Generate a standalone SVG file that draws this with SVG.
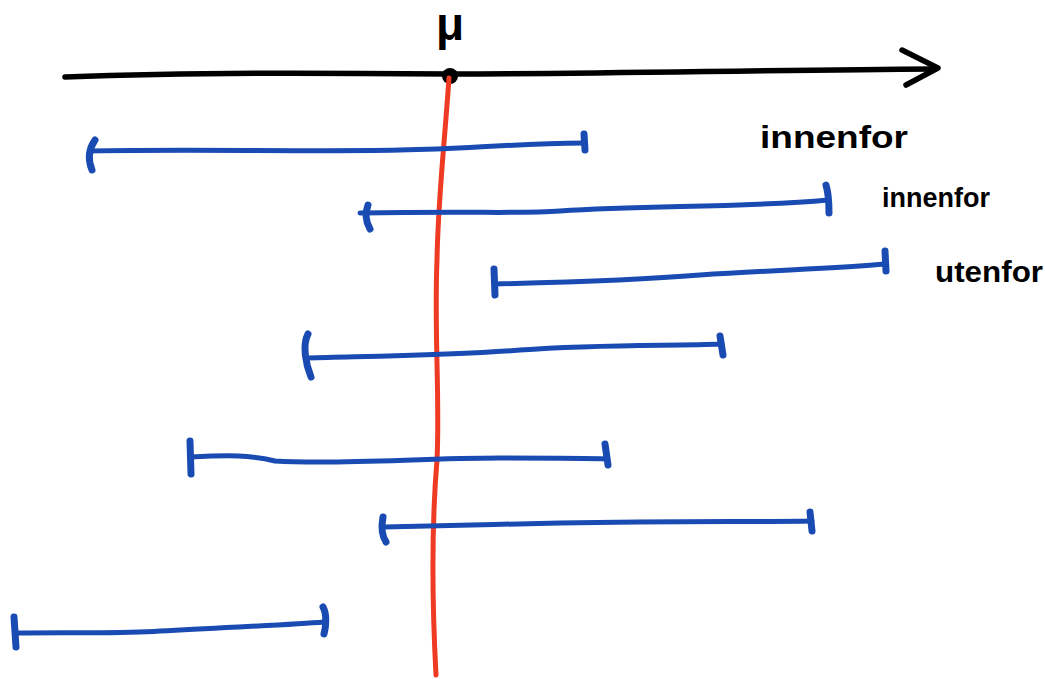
<svg xmlns="http://www.w3.org/2000/svg" width="1045" height="679" viewBox="0 0 1045 679">
  <style>
    .axis { fill: none; stroke: #000; stroke-width: 5.5; stroke-linecap: round; stroke-linejoin: round; }
    .mean { fill: none; stroke: #ef3a24; stroke-width: 5; stroke-linecap: round; }
    .ci { fill: none; stroke: #1a4bb3; stroke-width: 5; stroke-linecap: round; stroke-linejoin: round; }
    .tick { fill: none; stroke: #1a4bb3; stroke-width: 7; stroke-linecap: round; }
    .lbl { font-family: "Liberation Sans", Arial, sans-serif; font-weight: bold; fill: #000; }
  </style>

  <!-- number line with arrow -->
  <g id="axis">
    <path class="axis" d="M65,77 C200,72 330,73 450,74 C600,74 760,70 935,69"/>
    <path class="axis" d="M902,50 L938,68 L906,85"/>
    <circle cx="450" cy="76" r="8" fill="#000"/>
    <text class="lbl" x="450" y="40" font-size="46" text-anchor="middle">μ</text>
  </g>

  <!-- true mean -->
  <g id="mean-line">
    <path class="mean" d="M449,78 C444,150 438,200 437,260 C434,330 440,400 437,460 C432,520 432,600 436,675"/>
  </g>

  <!-- confidence intervals -->
  <g id="intervals">
    <g id="ci1">
      <path class="ci" d="M90,151 C200,149 300,152 400,150 C470,149 500,144 585,143"/>
      <path class="tick" d="M95,140 C88,150 88,160 92,170"/>
      <path class="tick" d="M584,134 L585,150"/>
    </g>
    <g id="ci2">
      <path class="ci" d="M360,213 C480,211 520,214 560,211 C650,205 740,208 828,200"/>
      <path class="tick" d="M368,205 C365,213 366,222 370,229"/>
      <path class="tick" d="M826,185 C829,195 829,205 829,213"/>
    </g>
    <g id="ci3">
      <path class="ci" d="M494,284 C580,282 640,280 700,275 C780,270 840,268 886,264"/>
      <path class="tick" d="M494,269 L495,295"/>
      <path class="tick" d="M885,251 L886,271"/>
    </g>
    <g id="ci4">
      <path class="ci" d="M308,358 C380,356 460,355 520,350 C600,344 670,346 722,344"/>
      <path class="tick" d="M308,334 C302,345 306,365 311,377"/>
      <path class="tick" d="M720,336 L723,355"/>
    </g>
    <g id="ci5">
      <path class="ci" d="M190,457 C230,455 250,455 275,461 C340,465 420,458 500,458 C560,458 585,458 607,459"/>
      <path class="tick" d="M190,441 L191,474"/>
      <path class="tick" d="M605,444 L608,465"/>
    </g>
    <g id="ci6">
      <path class="ci" d="M384,527 C450,526 500,524 560,523 C680,521 760,522 812,521"/>
      <path class="tick" d="M383,517 C381,528 382,536 386,542"/>
      <path class="tick" d="M810,512 L812,531"/>
    </g>
    <g id="ci7">
      <path class="ci" d="M15,633 C80,632 120,634 160,631 C230,627 290,625 324,622"/>
      <path class="tick" d="M14,617 L16,647"/>
      <path class="tick" d="M323,607 C327,614 326,627 324,634"/>
    </g>
  </g>

  <!-- captions -->
  <g id="labels">
    <text class="lbl" x="760" y="148" font-size="32" textLength="148" lengthAdjust="spacingAndGlyphs">innenfor</text>
    <text class="lbl" x="882" y="207" font-size="28" textLength="108" lengthAdjust="spacingAndGlyphs">innenfor</text>
    <text class="lbl" x="935" y="282" font-size="30" textLength="108" lengthAdjust="spacingAndGlyphs">utenfor</text>
  </g>
</svg>
